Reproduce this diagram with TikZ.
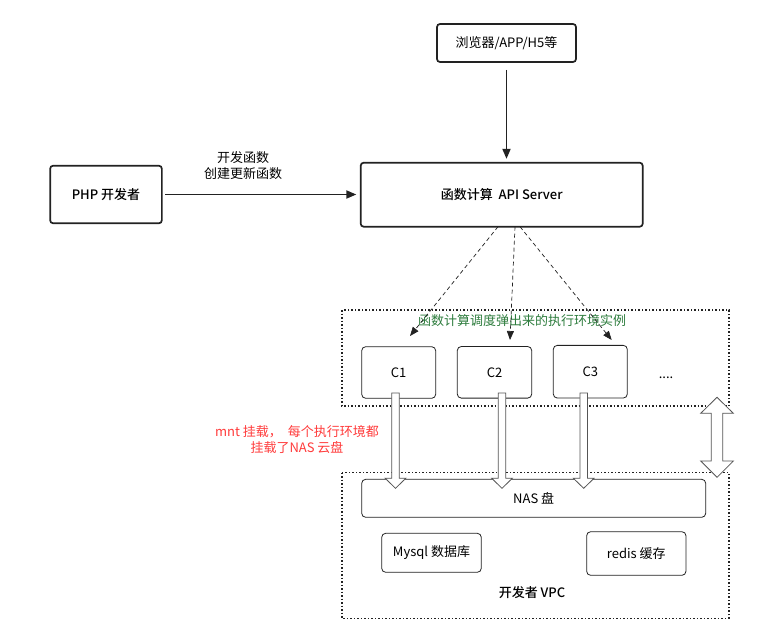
\documentclass[tikz,border=0pt]{standalone}
\usepackage{fontspec}
\setmainfont{Noto Sans CJK SC}[BoldFont={Noto Sans CJK SC Medium}]
\usetikzlibrary{arrows.meta}
\definecolor{lineC}{HTML}{222222}
\definecolor{greenT}{HTML}{2E7D3E}
\definecolor{redT}{HTML}{FF3B3B}
\definecolor{hollowC}{HTML}{555555}
\tikzset{
  thickbox/.style={draw=lineC, line width=1.7pt, rounded corners=3pt, fill=white, inner sep=0pt, font=\fontsize{13}{15.5}\selectfont},
  thinbox/.style={draw=lineC, line width=0.8pt, rounded corners=4pt, fill=white, inner sep=0pt, font=\fontsize{13}{15.5}\selectfont},
  dotbox/.style={draw=lineC, line width=1.5pt, dash pattern=on 1.5pt off 2pt},
  mainarrow/.style={draw=lineC, line width=1.8pt, -{Triangle[length=10pt,width=8pt]}},
  dasharrow/.style={draw=lineC, line width=0.7pt, dash pattern=on 4pt off 3pt, -{Triangle[length=9pt,width=7pt]}},
  hollow/.style={draw=hollowC, line width=0.8pt, fill=white},
  lbl/.style={inner sep=0pt, font=\fontsize{13}{16}\selectfont},
}
\begin{document}
\begin{tikzpicture}[x=1pt,y=-1pt]
\useasboundingbox[fill=white] (0,0) rectangle (773,643);

% containers
\draw[dotbox] (342,310) rectangle (729,406);
\draw[dotbox] (342,472.7) rectangle (729,618.3);

% top nodes
\node[thickbox, minimum width=139pt, minimum height=38pt] (browser) at (506.5,43) {浏览器/APP/H5等};
\node[thickbox, minimum width=282pt, minimum height=64pt] (api) at (501.7,194.7) {\bfseries 函数计算\ \ API Server};
\node[thickbox, minimum width=111.7pt, minimum height=57.6pt] (php) at (106,194.5) {\bfseries PHP 开发者};

% instances
\node[thinbox, minimum width=74pt, minimum height=51.6pt] (c1) at (398.7,372.5) {C1};
\node[thinbox, minimum width=74.4pt, minimum height=51.6pt] (c2) at (494.5,372.3) {C2};
\node[thinbox, minimum width=74pt, minimum height=52.7pt] (c3) at (590.3,371.7) {C3};
\node[lbl] (dots) at (666,378) {....};
\node[lbl, text=greenT] (glabel) at (522,321) {函数计算调度弹出来的执行环境实例};

% VPC content
\node[thinbox, minimum width=344pt, minimum height=38pt] (nas) at (533.7,498.3) {NAS 盘};
\node[thinbox, minimum width=99.6pt, minimum height=39pt] (mysql) at (431.5,552.8) {Mysql 数据库};
\node[thinbox, minimum width=99.3pt, minimum height=43.6pt] (redis) at (636.3,553.5) {redis 缓存};
\node[lbl] (vpc) at (532,592.7) {\bfseries 开发者 VPC};

% labels
\node[lbl, align=center] (devlbl) at (243,166) {开发函数\\创建更新函数};
\node[lbl, align=center, text=redT] (mntlbl) at (297,439.5) {mnt 挂载，\ \ 每个执行环境都\\挂载了NAS 云盘};

% main arrows
\draw[mainarrow, shorten <=7pt, shorten >=3pt] (browser.south) -- (browser.south |- api.north);
\draw[mainarrow, shorten <=2.5pt, shorten >=3.5pt] (php.east) -- (php.east -| api.west);

% dashed arrows
\coordinate (s1) at (498,226.7);
\coordinate (s2) at (515,226.7);
\coordinate (s3) at (520,226.7);
\coordinate (t1) at (410,336);
\coordinate (t2) at (510,340);
\coordinate (t3) at (611.7,340);
\draw[dasharrow] (s1) -- (t1);
\draw[dasharrow] (s2) -- (t2);
\draw[dasharrow] (s3) -- (t3);

% hollow arrows from instances to NAS
\foreach \cx/\n in {395.5/c1, 502/c2, 583.7/c3}{
  \draw[hollow] (\cx-3.8,393) -- (\cx+3.8,393) -- (\cx+3.8,478.3) -- (\cx+10.3,478.3) -- (\cx,488.3) -- (\cx-10.3,478.3) -- (\cx-3.8,478.3) -- cycle;
}

% double arrow between containers
\draw[hollow] (717,397.3) -- (733.3,413.3) -- (722.8,413.3) -- (722.8,461) -- (733.3,461) -- (717,477.3) -- (700.7,461) -- (711.2,461) -- (711.2,413.3) -- (700.7,413.3) -- cycle;

\end{tikzpicture}
\end{document}
